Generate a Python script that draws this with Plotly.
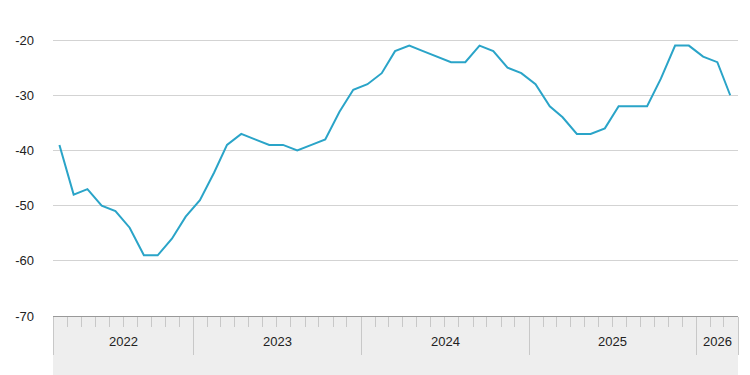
import plotly.graph_objects as go
import pandas as pd

# Data (monthly, Mar 2022 - Mar 2026)
months = pd.date_range("2022-03-01", "2026-03-01", freq="MS")
values = [-39, -48, -47, -50, -51, -54, -59, -59, -56, -52,
          -49, -44, -39, -37, -38, -39, -39, -40, -39, -38, -33, -29,
          -28, -26, -22, -21, -22, -23, -24, -24, -21, -22, -25, -26,
          -28, -32, -34, -37, -37, -36, -32, -32, -32, -27, -21, -21,
          -23, -24, -30]
y_ticks = [-70, -60, -50, -40, -30, -20]
y_tick_labels = ["-70", "-60", "-50", "-40", "-30", "-20"]
year_labels = ["2022", "2023", "2024", "2025", "2026"]

x_start = pd.Timestamp("2022-03-01")
x_end = pd.Timestamp("2026-04-01")
# plot points at mid-month
x_points = [m + pd.Timedelta(days=14) for m in months]

year_bounds = [x_start] + [pd.Timestamp(f"{y}-01-01") for y in year_labels[1:]] + [x_end]

fig = go.Figure()
fig.add_trace(go.Scatter(x=x_points, y=values, mode="lines",
                         line=dict(color="#2AA4C8", width=2),
                         hoverinfo="skip", showlegend=False))

# grey band under the axis
fig.add_shape(type="rect", xref="paper", yref="paper", x0=0, x1=1,
              y0=-0.25, y1=0, fillcolor="#EEEEEE", line_width=0, layer="below")

# year labels centred in their visible segment
for i, lab in enumerate(year_labels):
    a, b = year_bounds[i], year_bounds[i + 1]
    mid = a + (b - a) / 2
    fig.add_annotation(x=mid, xref="x", y=-0.087, yref="paper", text=lab,
                       showarrow=False, font=dict(size=13, color="#222222"),
                       yanchor="middle")

fig.update_layout(
    width=750, height=375,
    margin=dict(l=45, r=20, t=10, b=67),
    paper_bgcolor="white", plot_bgcolor="white",
    font=dict(family="Liberation Sans, Arial, sans-serif", size=13, color="#222222"),
    xaxis=dict(
        type="date", range=[x_start, x_end], automargin=False,
        tickmode="array", tickvals=year_bounds, ticktext=[""] * len(year_bounds),
        ticks="outside", ticklen=38, tickcolor="#C8C8C8", tickwidth=1,
        showgrid=False, zeroline=False,
        showline=True, linecolor="#999999", linewidth=1,
        minor=dict(tickmode="linear", dtick="M1", tick0="2022-01-01",
                   ticks="outside", ticklen=10, tickcolor="#C8C8C8", tickwidth=1,
                   showgrid=False),
    ),
    yaxis=dict(
        range=[-70, -16], tickmode="array", tickvals=y_ticks, ticktext=y_tick_labels,
        automargin=False,
        showgrid=True, gridcolor="#D3D3D3", gridwidth=1,
        zeroline=False, showline=False, ticks="", ticklabelstandoff=18,
        tickfont=dict(size=13, color="#222222"),
    ),
)

fig.write_html("out.html")
